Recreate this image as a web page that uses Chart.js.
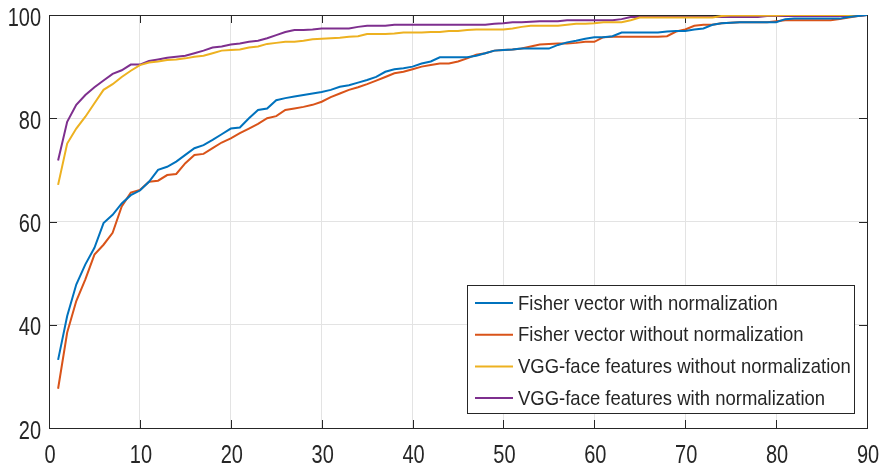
<!DOCTYPE html>
<html>
<head>
<meta charset="utf-8">
<script src="https://cdn.jsdelivr.net/npm/chart.js@4"></script>
<style>
  html, body { margin: 0; padding: 0; background: #fff; }
  #wrap { width: 881px; height: 467px; }
</style>
</head>
<body>
<div id="wrap"><canvas id="cmc"></canvas></div>
<script>
// rank axis (1..90) and tick values
const ranks = Array.from({ length: 90 }, (_, i) => i + 1);
const xTicks = [0, 10, 20, 30, 40, 50, 60, 70, 80, 90];
const yTicks = [20, 40, 60, 80, 100];

const seriesNames = [
  "Fisher vector with normalization",
  "Fisher vector without normalization",
  "VGG-face features without normalization",
  "VGG-face features with normalization",
];
const seriesColors = ["#0072BD", "#D95319", "#EDB120", "#7E2F8E"];

// recognition rate (%) per rank
const fisherNorm = [
  33.2, 41.7, 47.8, 51.7, 54.9, 59.7, 61.3, 63.5, 65.1, 66.0,
  67.7, 70.0, 70.6, 71.6, 72.9, 74.2, 74.8, 75.8, 76.9, 78.0,
  78.2, 80.0, 81.6, 81.9, 83.5, 83.9, 84.2, 84.5, 84.8, 85.1,
  85.5, 86.1, 86.4, 86.9, 87.4, 88.0, 89.0, 89.5, 89.7, 90.0,
  90.6, 91.0, 91.8, 91.8, 91.8, 91.8, 92.1, 92.6, 93.1, 93.2,
  93.3, 93.5, 93.5, 93.5, 93.5, 94.2, 94.7, 95.0, 95.4, 95.7,
  95.7, 95.9, 96.6, 96.6, 96.6, 96.6, 96.6, 96.8, 96.9, 96.9,
  97.2, 97.4, 98.1, 98.4, 98.5, 98.6, 98.6, 98.6, 98.6, 98.6,
  99.2, 99.3, 99.3, 99.3, 99.3, 99.3, 99.3, 99.6, 99.8, 100,
];
const fisherRaw = [
  27.6, 38.5, 44.6, 48.8, 53.6, 55.5, 57.8, 62.9, 65.6, 66.1,
  67.7, 67.9, 69.0, 69.2, 71.3, 72.9, 73.1, 74.2, 75.3, 76.1,
  77.1, 78.0, 78.9, 80.0, 80.4, 81.6, 81.9, 82.2, 82.6, 83.2,
  84.1, 84.8, 85.5, 86.0, 86.6, 87.3, 88.0, 88.7, 89.0, 89.5,
  90.0, 90.3, 90.6, 90.6, 91.0, 91.6, 92.3, 92.6, 93.1, 93.2,
  93.3, 93.5, 93.9, 94.3, 94.4, 94.5, 94.5, 94.6, 94.8, 94.8,
  95.7, 95.8, 95.8, 95.8, 95.8, 95.8, 95.8, 95.9, 96.8, 97.2,
  97.9, 98.1, 98.1, 98.4, 98.5, 98.6, 98.6, 98.6, 98.6, 98.8,
  99.0, 99.0, 99.0, 99.0, 99.0, 99.0, 99.2, 99.5, 99.8, 100,
];
const vggRaw = [
  67.1, 75.1, 78.0, 80.3, 82.9, 85.5, 86.6, 88.0, 89.2, 90.3,
  90.8, 91.0, 91.3, 91.4, 91.6, 91.9, 92.1, 92.6, 93.1, 93.2,
  93.3, 93.7, 93.9, 94.4, 94.6, 94.8, 94.8, 95.0, 95.3, 95.4,
  95.5, 95.6, 95.8, 95.9, 96.3, 96.3, 96.3, 96.4, 96.6, 96.6,
  96.6, 96.7, 96.7, 96.9, 96.9, 97.1, 97.2, 97.2, 97.2, 97.2,
  97.4, 97.7, 97.9, 97.9, 97.9, 97.9, 98.1, 98.3, 98.3, 98.4,
  98.6, 98.6, 98.6, 99.0, 99.5, 99.5, 99.5, 99.5, 99.5, 99.5,
  99.5, 99.5, 99.5, 99.8, 99.9, 99.9, 99.9, 99.9, 99.9, 99.9,
  100, 100, 100, 100, 100, 100, 100, 100, 100, 100,
];
const vggNorm = [
  71.8, 79.3, 82.6, 84.5, 86.0, 87.3, 88.6, 89.3, 90.4, 90.4,
  91.1, 91.4, 91.7, 91.9, 92.1, 92.6, 93.1, 93.7, 93.9, 94.3,
  94.5, 94.8, 95.0, 95.5, 96.1, 96.7, 97.1, 97.1, 97.2, 97.4,
  97.4, 97.4, 97.4, 97.7, 97.9, 97.9, 97.9, 98.1, 98.1, 98.1,
  98.1, 98.1, 98.1, 98.1, 98.1, 98.1, 98.1, 98.1, 98.3, 98.4,
  98.6, 98.6, 98.7, 98.8, 98.8, 98.8, 99.0, 99.0, 99.0, 99.0,
  99.0, 99.0, 99.2, 99.6, 99.6, 99.6, 99.6, 99.6, 99.6, 99.6,
  99.6, 99.6, 99.6, 99.6, 99.6, 99.6, 99.6, 99.6, 99.8, 99.8,
  99.8, 99.8, 99.8, 99.8, 99.8, 99.8, 99.8, 99.8, 99.8, 100,
];

const FONT = "'Liberation Sans', Arial, sans-serif";
const AXIS = "#262626";

// draw text squeezed horizontally (the figure uses a narrow face)
function narrowText(ctx, text, x, y, sx, align) {
  ctx.save();
  ctx.translate(x, y);
  ctx.scale(sx, 1);
  ctx.textAlign = align;
  ctx.fillText(text, 0, 0);
  ctx.restore();
}

// MATLAB style box with inward ticks on all four sides
const boxPlugin = {
  id: "box",
  beforeDatasetsDraw(chart) {
    const { ctx, chartArea: a, scales } = chart;
    const len = 8;
    ctx.save();
    ctx.strokeStyle = AXIS;
    ctx.lineWidth = 1;
    ctx.beginPath();
    xTicks.forEach(v => {
      const px = Math.round(scales.x.getPixelForValue(v)) + 0.5;
      ctx.moveTo(px, a.bottom); ctx.lineTo(px, a.bottom - len);
      ctx.moveTo(px, a.top); ctx.lineTo(px, a.top + len);
    });
    yTicks.forEach(v => {
      const py = Math.round(scales.y.getPixelForValue(v)) + 0.5;
      ctx.moveTo(a.left, py); ctx.lineTo(a.left + len, py);
      ctx.moveTo(a.right, py); ctx.lineTo(a.right - len, py);
    });
    ctx.stroke();
    ctx.strokeRect(Math.round(a.left) + 0.5, Math.round(a.top) + 0.5,
      Math.round(a.right - a.left), Math.round(a.bottom - a.top));

    // tick labels
    ctx.fillStyle = AXIS;
    ctx.font = "25px " + FONT;
    ctx.textBaseline = "alphabetic";
    xTicks.forEach(v => {
      narrowText(ctx, String(v), scales.x.getPixelForValue(v) + 1, a.bottom + 35, 0.8, "center");
    });
    yTicks.forEach(v => {
      narrowText(ctx, String(v), a.left - 8, scales.y.getPixelForValue(v) + 10.5, 0.8, "right");
    });
    ctx.restore();
  },
};

// legend box inside the lower right of the axes
const legendPlugin = {
  id: "innerLegend",
  afterDraw(chart) {
    const { ctx } = chart;
    const x0 = 467, y0 = 285, w = 387, h = 128;
    const rowH = 31.7;
    ctx.save();
    ctx.fillStyle = "#fff";
    ctx.fillRect(x0, y0, w, h);
    ctx.strokeStyle = AXIS;
    ctx.lineWidth = 1;
    ctx.strokeRect(x0 + 0.5, y0 + 0.5, w, h);
    ctx.font = "21px " + FONT;
    ctx.textBaseline = "middle";
    chart.data.datasets.forEach((ds, i) => {
      const cy = y0 + 18 + i * rowH;
      ctx.strokeStyle = ds.borderColor;
      ctx.lineWidth = 2;
      ctx.beginPath();
      ctx.moveTo(475, cy); ctx.lineTo(513, cy);
      ctx.stroke();
      ctx.fillStyle = AXIS;
      narrowText(ctx, ds.label, 518, cy + 1, 0.88, "left");
    });
    ctx.restore();
  },
};

const allSeries = [fisherNorm, fisherRaw, vggRaw, vggNorm];

new Chart(document.getElementById("cmc"), {
  type: "line",
  data: {
    datasets: allSeries.map((vals, i) => ({
      label: seriesNames[i],
      data: ranks.map((r, j) => ({ x: r, y: vals[j] })),
      borderColor: seriesColors[i],
      backgroundColor: seriesColors[i],
      borderWidth: 2,
      pointRadius: 0,
      tension: 0,
      fill: false,
    })),
  },
  options: {
    responsive: true,
    maintainAspectRatio: false,
    animation: false,
    layout: { padding: { top: 15, right: 14, left: 0, bottom: 0 } },
    plugins: { legend: { display: false }, tooltip: { enabled: false } },
    scales: {
      x: {
        type: "linear",
        min: 0, max: 90,
        afterFit: s => { s.height = 39; },
        afterBuildTicks: s => { s.ticks = xTicks.map(v => ({ value: v })); },
        grid: { color: "#e3e3e3", drawTicks: false },
        border: { display: false },
        ticks: { display: false },
      },
      y: {
        min: 20, max: 100,
        afterFit: s => { s.width = 49; },
        afterBuildTicks: s => { s.ticks = yTicks.map(v => ({ value: v })); },
        grid: { color: "#e3e3e3", drawTicks: false },
        border: { display: false },
        ticks: { display: false },
      },
    },
  },
  plugins: [boxPlugin, legendPlugin],
});
</script>
</body>
</html>
